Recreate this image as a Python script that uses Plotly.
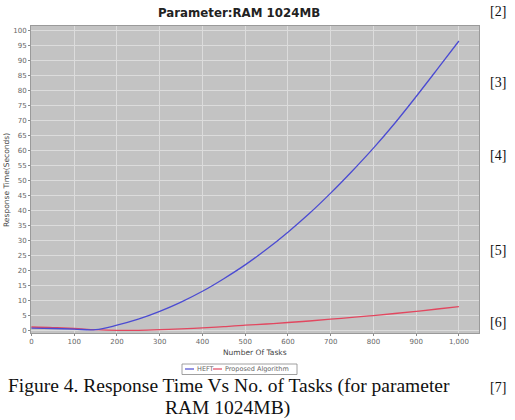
import plotly.graph_objects as go

tasks = [0, 50, 100, 150, 200, 250, 300, 350, 400, 450, 500,
         550, 600, 650, 700, 750, 800, 850, 900, 950, 1000]
heft = [0.8, 0.7, 0.5, 0.3, 1.8, 3.8, 6.4, 9.5, 13.1, 17.3, 21.9,
        27.1, 32.8, 39.0, 45.8, 53.1, 60.8, 69.1, 78.0, 87.2, 96.5]
proposed = [1.2, 1.0, 0.7, 0.3, 0.1, 0.1, 0.3, 0.6, 0.9, 1.3, 1.8,
            2.2, 2.7, 3.2, 3.8, 4.4, 5.0, 5.7, 6.4, 7.2, 8.0]
x_ticks = [0, 100, 200, 300, 400, 500, 600, 700, 800, 900, 1000]
y_ticks = list(range(0, 101, 5))
series_names = ["HEFT", "Proposed Algorithm"]
series_colors = ["#4b4bd2", "#e2475f"]

fig = go.Figure()
fig.add_trace(go.Scatter(x=tasks, y=proposed, mode="lines", name=series_names[1],
                         line=dict(color=series_colors[1], width=1.3, shape="spline")))
fig.add_trace(go.Scatter(x=tasks, y=heft, mode="lines", name=series_names[0],
                         line=dict(color=series_colors[0], width=1.3, shape="spline")))

W, H = 515, 420
L, R, T, B = 31, 36, 26, 87
pw, ph = W - L - R, H - T - B

def px(xp):
    return (xp - L) / pw

def py(yp):
    return (H - B - yp) / ph

fig.update_layout(
    width=W, height=H,
    margin=dict(l=L, r=R, t=T, b=B),
    paper_bgcolor="white",
    plot_bgcolor="#c3c3c3",
    showlegend=False,
    font=dict(family="DejaVu Sans", color="#555555", size=7),
)
fig.update_xaxes(range=[-1, 1047], tickvals=x_ticks, tickformat=",",
                 showgrid=True, gridcolor="#dcdcdc", gridwidth=1,
                 zeroline=False, showline=True, linecolor="#9a9a9a", mirror=True,
                 ticks="outside", ticklen=2, tickcolor="#888888",
                 tickfont=dict(size=7, color="#666666"))
fig.update_yaxes(range=[-0.8, 101.5], tickvals=y_ticks,
                 showgrid=True, gridcolor="#dcdcdc", gridwidth=1,
                 zeroline=False, showline=True, linecolor="#9a9a9a", mirror=True,
                 ticks="outside", ticklen=2, tickcolor="#888888",
                 tickfont=dict(size=7, color="#666666"))

ann = []
# title
ann.append(dict(text="<b>Parameter:RAM 1024MB</b>", x=px(239), y=py(13), xref="paper", yref="paper",
                showarrow=False, font=dict(family="DejaVu Sans", size=11.8, color="#222222"),
                xanchor="center", yanchor="middle"))
# axis titles
ann.append(dict(text="Number Of Tasks", x=px(255), y=py(352), xref="paper", yref="paper",
                showarrow=False, font=dict(family="DejaVu Sans", size=7.5, color="#444444"),
                xanchor="center", yanchor="middle"))
ann.append(dict(text="Response Time(Seconds)", x=px(6), y=py(180), xref="paper", yref="paper",
                showarrow=False, textangle=-90, font=dict(family="DejaVu Sans", size=7.5, color="#444444"),
                xanchor="center", yanchor="middle"))
# legend
shapes = [dict(type="rect", xref="paper", yref="paper", x0=px(182), x1=px(297), y0=py(364), y1=py(374.5),
               line=dict(color="#888888", width=0.8), fillcolor="white")]
leg_items = [(185, series_names[0], series_colors[0]), (213, series_names[1], series_colors[1])]
for x0, name, col in leg_items:
    shapes.append(dict(type="line", xref="paper", yref="paper", x0=px(x0), x1=px(x0 + 9),
                       y0=py(369), y1=py(369), line=dict(color=col, width=1.2)))
    ann.append(dict(text=name, x=px(x0 + 10), y=py(369), xref="paper", yref="paper", showarrow=False,
                    xanchor="left", yanchor="middle", font=dict(family="DejaVu Sans", size=6.5, color="#666666")))
# caption
ann.append(dict(text="Figure 4. Response Time Vs No. of Tasks (for parameter", x=px(229), y=py(386),
                xref="paper", yref="paper", showarrow=False, xanchor="center", yanchor="middle",
                font=dict(family="Liberation Serif", size=19.5, color="#111111")))
ann.append(dict(text="RAM 1024MB)", x=px(227), y=py(408), xref="paper", yref="paper", showarrow=False,
                xanchor="center", yanchor="middle",
                font=dict(family="Liberation Serif", size=19.5, color="#111111")))
# side references
for lab, yy in [("[2]", 12), ("[3]", 82), ("[4]", 155), ("[5]", 250), ("[6]", 322), ("[7]", 387)]:
    ann.append(dict(text=lab, x=px(498), y=py(yy), xref="paper", yref="paper", showarrow=False,
                    xanchor="center", yanchor="middle",
                    font=dict(family="Liberation Serif", size=14, color="#111111")))

fig.update_layout(annotations=ann, shapes=shapes)
fig.write_html("out.html")
